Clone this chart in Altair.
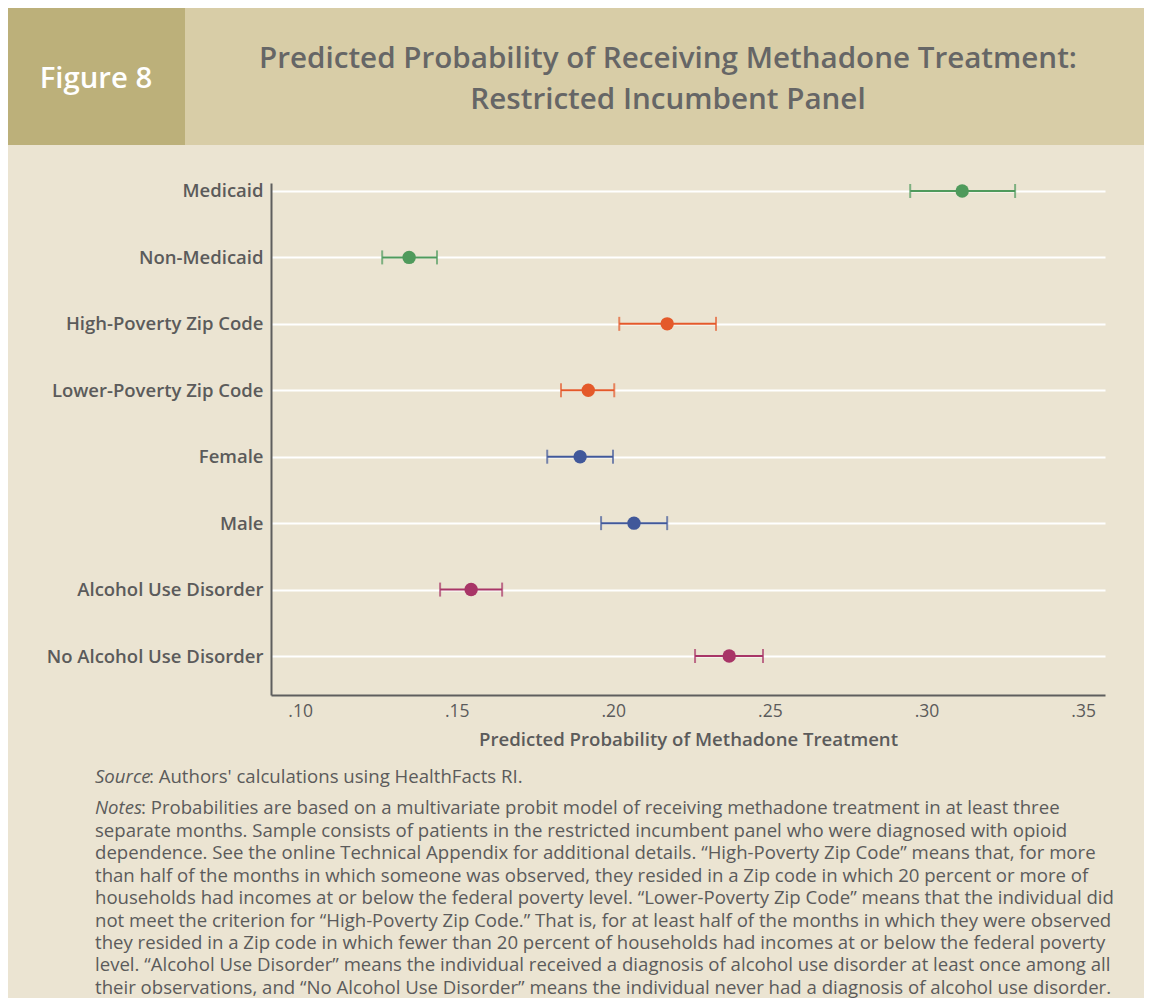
import json
import altair as alt
import pandas as pd

categories = ["Medicaid", "Non-Medicaid", "High-Poverty Zip Code", "Lower-Poverty Zip Code",
              "Female", "Male", "Alcohol Use Disorder", "No Alcohol Use Disorder"]
groups = ["Medicaid", "Medicaid", "Poverty", "Poverty", "Sex", "Sex", "Alcohol", "Alcohol"]
estimates = [0.3114, 0.1348, 0.2172, 0.1920, 0.1894, 0.2066, 0.1546, 0.2370]
lower = [0.2948, 0.1262, 0.2019, 0.1833, 0.1789, 0.1961, 0.1447, 0.2261]
upper = [0.3283, 0.1437, 0.2328, 0.2003, 0.1999, 0.2172, 0.1645, 0.2478]
group_names = ["Medicaid", "Poverty", "Sex", "Alcohol"]
group_colors = ["#4f9a5c", "#e4592a", "#41589a", "#a83567"]
x_ticks = [0.10, 0.15, 0.20, 0.25, 0.30, 0.35]

fig_label = "Figure 8"
title_lines = ["Predicted Probability of Receiving Methadone Treatment:", "Restricted Incumbent Panel"]
x_title = "Predicted Probability of Methadone Treatment"
source_rest = ": Authors' calculations using HealthFacts RI."
notes_first = ": Probabilities are based on a multivariate probit model of receiving methadone treatment in at least three"
notes_lines = [
    "separate months. Sample consists of patients in the restricted incumbent panel who were diagnosed with opioid",
    "dependence. See the online Technical Appendix for additional details. \u201cHigh-Poverty Zip Code\u201d means that, for more",
    "than half of the months in which someone was observed, they resided in a Zip code in which 20 percent or more of",
    "households had incomes at or below the federal poverty level. \u201cLower-Poverty Zip Code\u201d means that the individual did",
    "not meet the criterion for \u201cHigh-Poverty Zip Code.\u201d That is, for at least half of the months in which they were observed",
    "they resided in a Zip code in which fewer than 20 percent of households had incomes at or below the federal poverty",
    "level. \u201cAlcohol Use Disorder\u201d means the individual received a diagnosis of alcohol use disorder at least once among all",
    "their observations, and \u201cNo Alcohol Use Disorder\u201d means the individual never had a diagnosis of alcohol use disorder.",
]

df = pd.DataFrame({
    "idx": list(range(len(categories))),
    "category": categories,
    "group": groups,
    "est": estimates,
    "lo": lower,
    "hi": upper,
})

FONT = "Open Sans"
GRAY = "#5b5b5b"
W, H = 834, 512

label_expr = json.dumps(categories) + "[datum.value]"

xscale = alt.Scale(domain=[0.0907, 0.357], nice=False, zero=False)
yscale = alt.Scale(domain=[-0.12, 7.587], nice=False, zero=False, reverse=True)
cscale = alt.Scale(domain=group_names, range=group_colors)

xenc = alt.X("est:Q", scale=xscale, title=x_title,
             axis=alt.Axis(values=x_ticks, labelExpr="slice(format(datum.value, '.2f'), 1)",
                           grid=False, ticks=False, domainColor="#5e5e5e", domainWidth=2,
                           labelFont=FONT, labelFontSize=17.5, labelColor=GRAY, labelPadding=7,
                           titleFont=FONT, titleFontSize=18.6, titleFontWeight=600,
                           titleColor=GRAY, titlePadding=11))
yenc = alt.Y("idx:Q", scale=yscale, title=None,
             axis=alt.Axis(values=list(range(len(categories))), labelExpr=label_expr,
                           grid=True, gridColor="#ffffff", gridWidth=2, gridOpacity=1,
                           ticks=False, domainColor="#5e5e5e", domainWidth=2,
                           labelFont=FONT, labelFontSize=18.5, labelFontWeight=600,
                           labelColor=GRAY, labelPadding=8, labelLimit=0))

base = alt.Chart(df)
rule = base.mark_rule(strokeWidth=2).encode(
    x=alt.X("lo:Q", scale=xscale, title=x_title), x2="hi:Q", y=yenc,
    color=alt.Color("group:N", scale=cscale, legend=None))
cap_lo = base.mark_tick(orient="vertical", size=14, thickness=2).encode(
    x=alt.X("lo:Q", scale=xscale), y=alt.Y("idx:Q", scale=yscale),
    color=alt.Color("group:N", scale=cscale, legend=None))
cap_hi = base.mark_tick(orient="vertical", size=14, thickness=2).encode(
    x=alt.X("hi:Q", scale=xscale), y=alt.Y("idx:Q", scale=yscale),
    color=alt.Color("group:N", scale=cscale, legend=None))
pts = base.mark_circle(size=180, opacity=1).encode(
    x=xenc, y=alt.Y("idx:Q", scale=yscale),
    color=alt.Color("group:N", scale=cscale, legend=None))

one = alt.Data(values=[{"k": 1}])

hdr_left = alt.Chart(one).mark_rect(color="#bcb07a").encode(
    x=alt.value(-264), x2=alt.value(-86), y=alt.value(-176), y2=alt.value(-38))
hdr_right = alt.Chart(one).mark_rect(color="#d8cda7").encode(
    x=alt.value(-86), x2=alt.value(880), y=alt.value(-176), y2=alt.value(-38))


def txt(text, x, y, size=18.6, weight="normal", style="normal", color=GRAY, align="left",
        baseline="middle", lh=None):
    kw = dict(font=FONT, fontSize=size, fontWeight=weight, fontStyle=style, color=color,
              align=align, baseline=baseline)
    if lh is not None:
        kw["lineHeight"] = lh
    return alt.Chart(one).mark_text(**kw).encode(
        x=alt.value(x), y=alt.value(y), text=alt.value(text))


fig_txt = txt(fig_label, -175, -104, size=29.3, weight=600, color="#ffffff", align="center")
t1 = txt(title_lines[0], 397, -124, size=29.6, weight=600, color="#666666", align="center")
t2 = txt(title_lines[1], 397, -83, size=29.6, weight=600, color="#666666", align="center")

src_i = txt("Source", -176, 594, style="italic")
src_r = txt(source_rest, -122, 594)
nts_i = txt("Notes", -176, 625, style="italic")
nts_r = txt(notes_first, -130, 625)
nts_rest = txt(notes_lines, -176, 648, lh=22.4)

chart = alt.layer(
    hdr_left, hdr_right, fig_txt, t1, t2,
    rule, cap_lo, cap_hi, pts,
    src_i, src_r, nts_i, nts_r, nts_rest,
).properties(
    width=W, height=H,
    autosize=alt.AutoSizeParams(type="none"),
    padding={"left": 263, "top": 175, "right": 39, "bottom": 303},
).configure(background="#ebe4d2").configure_view(stroke=None)

chart.save("out.html", embed_options={"renderer": "svg", "actions": False})
